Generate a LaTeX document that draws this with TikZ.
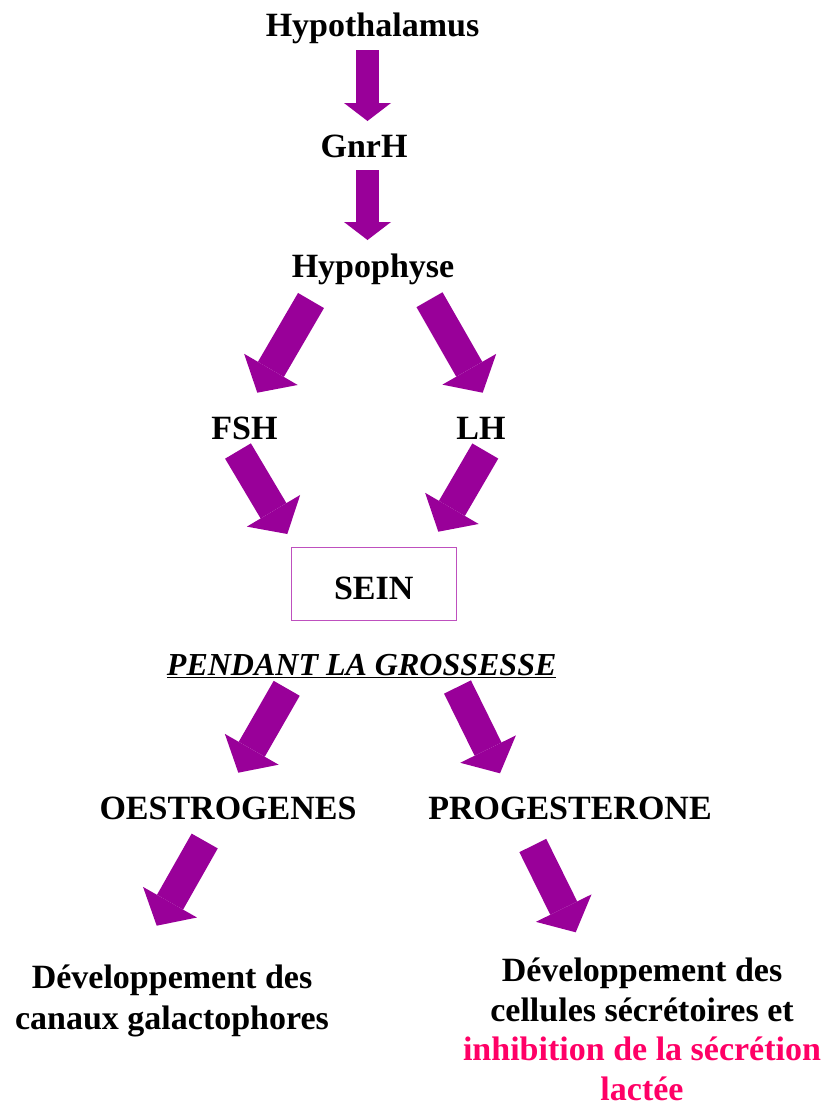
\documentclass[tikz,border=0pt]{standalone}
\usepackage{fontspec}
\setmainfont{Liberation Serif}
\usetikzlibrary{arrows.meta}
\definecolor{violetfl}{RGB}{153,0,153}
\definecolor{rose}{RGB}{255,0,102}
\definecolor{cadre}{RGB}{190,80,190}
\tikzset{
  etiq/.style={font=\bfseries\fontsize{34}{40}\selectfont, anchor=base, inner sep=0pt},
  fleche/.style={draw=violetfl, line width=30pt, -{Triangle[width=62pt,length=27pt,line width=0pt]}},
  flechev/.style={draw=violetfl, line width=23pt, -{Triangle[width=47pt,length=18pt,line width=0pt]}},
}
\begin{document}
\begin{tikzpicture}[x=1pt,y=-1pt]
    \useasboundingbox (0,0) rectangle (829,1104);
    % Axe hypothalamo-hypophysaire
    \node[etiq] (hypothal) at (372.5,36) {Hypothalamus};
    \node[etiq] (gnrh) at (364,157) {GnrH};
    \node[etiq] (hypoph) at (373,277) {Hypophyse};
    \node[etiq] (fsh) at (244.5,439) {FSH};
    \node[etiq] (lh) at (481,439) {LH};
    \node[etiq, draw=cadre, line width=1pt, anchor=north west, minimum width=165pt,
          minimum height=73pt, text height=32.5pt] (sein) at (290.7,546.7) {SEIN\hspace{12pt}};
    % Pendant la grossesse
    \node[etiq, font=\bfseries\itshape\fontsize{32}{38}\selectfont] (pendant) at (361.7,675) {\underline{PENDANT LA GROSSESSE}};
    \node[etiq] (oestro) at (228,819) {OESTROGENES};
    \node[etiq] (proges) at (570,819) {PROGESTERONE};
    \node[etiq, align=center, font=\bfseries\fontsize{34}{41}\selectfont] (canaux) at (172,1029) {Développement des\\canaux galactophores};
    \node[etiq, align=center, font=\bfseries\fontsize{34}{39.6}\selectfont] (secret) at (642,1100.5) {Développement des\\cellules sécrétoires et\\\textcolor{rose}{inhibition de la sécrétion}\\\textcolor{rose}{lactée}};
    % Fleches verticales
    \coordinate (d1) at (367.5,50);  \coordinate (f1) at (367.5,121);
    \coordinate (d2) at (367.5,170); \coordinate (f2) at (367.5,240);
    \foreach \i in {1,2} \draw[flechev] (d\i) -- (f\i);
    % Fleches obliques
    \foreach \i/\d/\f in {3/{311,300.5}/{257.3,392.7}, 4/{429.5,299.7}/{482.7,392.7},
        5/{238,451}/{287.3,534}, 6/{485.3,451}/{438.3,531.7},
        7/{286.7,688.3}/{238.3,772.7}, 8/{457.5,687}/{500,773.3},
        9/{204.7,841}/{156.7,925.7}, 10/{532.8,845.5}/{575.7,932.3}} {
      \coordinate (d\i) at (\d);
      \coordinate (f\i) at (\f);
      \draw[fleche] (d\i) -- (f\i);
    }
\end{tikzpicture}
\end{document}
